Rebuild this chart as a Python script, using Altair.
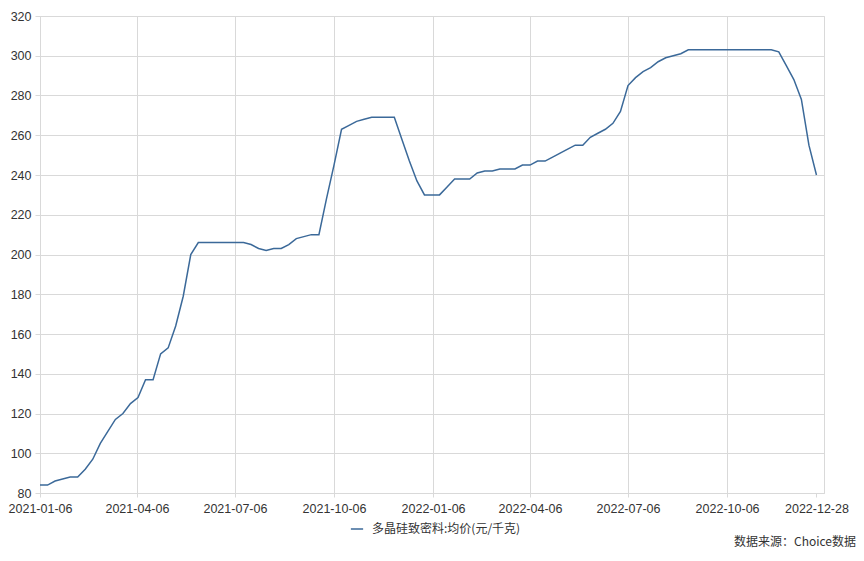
import altair as alt
import pandas as pd

# ---- data ----
start_date = "2021-01-06"
n_weeks = 104
series_name = "多晶硅致密料:均价(元/千克)"
prices = [
    84, 84, 86, 87, 88, 88, 92, 97, 105, 111,
    117, 120, 125, 128, 137, 137, 150, 153, 164, 179,
    200, 206, 206, 206, 206, 206, 206, 206, 205, 203,
    202, 203, 203, 205, 208, 209, 210, 210, 228, 245,
    263, 265, 267, 268, 269, 269, 269, 269, 258, 247,
    237, 230, 230, 230, 234, 238, 238, 238, 241, 242,
    242, 243, 243, 243, 245, 245, 247, 247, 249, 251,
    253, 255, 255, 259, 261, 263, 266, 272, 285, 289,
    292, 294, 297, 299, 300, 301, 303, 303, 303, 303,
    303, 303, 303, 303, 303, 303, 303, 303, 302, 295,
    288, 278, 255, 240,
]
tick_dates = [
    (2021, 1, 6), (2021, 4, 6), (2021, 7, 6), (2021, 10, 6),
    (2022, 1, 6), (2022, 4, 6), (2022, 7, 6), (2022, 10, 6), (2022, 12, 28),
]
domain_end = (2023, 1, 4)
y_ticks = list(range(80, 321, 20))
source_note = "数据来源：Choice数据"

dates = pd.date_range(start_date, periods=n_weeks, freq="7D")
df = pd.DataFrame({
    "date": dates.strftime("%Y-%m-%dT00:00:00Z"),
    "price": prices,
    "series": series_name,
})

FONT = "Noto Sans CJK SC"
NUM_FONT = "Liberation Sans"
LINE_COLOR = "#3b6999"
GRID = "#d9d9d9"
LABEL = "#333333"


def dt(t):
    return alt.DateTime(year=t[0], month=t[1], date=t[2], utc=True)


x_enc = alt.X(
    "date:T",
    scale=alt.Scale(type="utc", domain=[dt(tick_dates[0]), dt(domain_end)]),
    axis=alt.Axis(
        values=[dt(t) for t in tick_dates],
        format="%Y-%m-%d",
        title=None,
        grid=True,
        gridColor=GRID,
        gridOpacity=alt.condition("datum.value >= utc(2022, 11, 1)", alt.value(0), alt.value(1)),
        domainColor=GRID,
        tickColor=GRID,
        tickSize=4,
        labelColor=LABEL,
        labelFont=NUM_FONT,
        labelFontSize=12.5,
        labelPadding=5,
        labelFlush=False,
        labelOverlap=False,
    ),
)
y_enc = alt.Y(
    "price:Q",
    scale=alt.Scale(domain=[80, 320], nice=False, zero=False),
    axis=alt.Axis(
        values=y_ticks,
        title=None,
        grid=True,
        gridColor=GRID,
        domainColor=GRID,
        tickColor=GRID,
        tickSize=5,
        labelColor=LABEL,
        labelFont=NUM_FONT,
        labelFontSize=12.5,
        labelPadding=4,
    ),
)

line = alt.Chart(df).mark_line(strokeWidth=1.5).encode(
    x=x_enc,
    y=y_enc,
    color=alt.Color(
        "series:N",
        scale=alt.Scale(range=[LINE_COLOR]),
        legend=alt.Legend(
            title=None,
            orient="none",
            legendX=310,
            legendY=506,
            symbolType="stroke",
            symbolSize=150,
            symbolStrokeWidth=1.5,
            labelFont=FONT,
            labelFontSize=12,
            labelColor=LABEL,
            labelOffset=8,
        ),
    ),
)

note = alt.Chart(pd.DataFrame({"t": [source_note]})).mark_text(
    align="right", baseline="middle", font=FONT, fontSize=12, color=LABEL
).encode(
    x=alt.value(816),
    y=alt.value(526),
    text="t:N",
)

chart = alt.layer(line, note).properties(
    width=784,
    height=477,
    autosize=alt.AutoSizeParams(type="none"),
    padding={"left": 32, "top": 8, "right": 32, "bottom": 55},
).configure_view(stroke=GRID, strokeWidth=1)

chart.save("out.html", embed_options={"renderer": "svg", "actions": False})
